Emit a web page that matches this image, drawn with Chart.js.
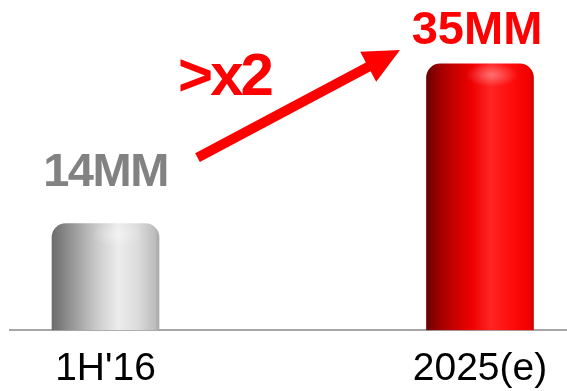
<!DOCTYPE html>
<html>
<head>
<meta charset="utf-8">
<script src="https://cdn.jsdelivr.net/npm/chart.js@4"></script>
<style>
  html, body { margin: 0; padding: 0; background: #fff; }
  #wrap { width: 567px; height: 391px; }
</style>
</head>
<body>
<div id="wrap"><canvas id="growth"></canvas></div>
<script>
// periods and subscriber counts (millions)
var periods = ["1H'16", "2025(e)"];
var subscribers = [14, 35];
var valueLabels = ['14MM', '35MM'];
var growthLabel = '>x2';

var labelColors = ['#828282', '#ff0000'];
var BAR_W = 107;

// horizontal stops for the cylinder look
var barShades = [
    [[0, '#6c6c6c'], [0.15, '#8e8e8e'], [0.42, '#cbcbcb'], [0.62, '#ececec'], [0.8, '#dcdcdc'], [0.96, '#bdbdbd'], [1, '#a8a8a8']],
    [[0, '#6a0000'], [0.15, '#aa0000'], [0.42, '#ee0000'], [0.6, '#ff2424'], [0.8, '#ff0c0c'], [0.96, '#f00000'], [1, '#d40000']]
];

function cylinderFill(context) {
    var chart = context.chart;
    var xScale = chart.scales.x;
    if (!chart.chartArea || !xScale) {
        return '#999';
    }
    var cx = xScale.getPixelForValue(context.dataIndex);
    if (!isFinite(cx)) {
        return '#999';
    }
    var half = BAR_W / 2;
    var g = chart.ctx.createLinearGradient(cx - half, 0, cx + half, 0);
    barShades[context.dataIndex].forEach(function (s) {
        g.addColorStop(s[0], s[1]);
    });
    return g;
}

// soft highlight on the rounded tops, value labels, growth arrow
var decorations = {
    id: 'decorations',
    afterDatasetsDraw: function (chart) {
        var ctx = chart.ctx;
        var bars = chart.getDatasetMeta(0).data;
        ctx.save();
        bars.forEach(function (bar) {
            ctx.save();
            ctx.translate(bar.x + 12, bar.y + 11);
            ctx.scale(2.2, 1);
            var hl = ctx.createRadialGradient(0, 0, 0, 0, 0, 12);
            hl.addColorStop(0, 'rgba(255,255,255,0.35)');
            hl.addColorStop(1, 'rgba(255,255,255,0)');
            ctx.fillStyle = hl;
            ctx.beginPath();
            ctx.arc(0, 0, 12, 0, Math.PI * 2);
            ctx.fill();
            ctx.restore();
        });

        var gaps = [38, 20];
        ctx.textAlign = 'center';
        ctx.textBaseline = 'alphabetic';
        ctx.font = 'bold 47px "Liberation Sans", Arial, sans-serif';
        bars.forEach(function (bar, i) {
            ctx.fillStyle = labelColors[i];
            ctx.letterSpacing = i === 0 ? '-1.5px' : '0px';
            ctx.fillText(valueLabels[i], bar.x - (i === 1 ? 3 : 0), bar.y - gaps[i]);
        });

        // arrow from the first label to the second
        var a = bars[0], b = bars[1];
        var x0 = a.x + 92, y0 = a.y - 66;
        var x1 = b.x - 80, y1 = b.y - 14;
        var ang = Math.atan2(y1 - y0, x1 - x0);
        var headLen = 36, headW = 17, shaft = 5;
        var bx = x1 - headLen * Math.cos(ang), by = y1 - headLen * Math.sin(ang);
        var nx = -Math.sin(ang), ny = Math.cos(ang);
        ctx.fillStyle = '#ff0000';
        ctx.beginPath();
        ctx.moveTo(x0 + nx * shaft, y0 + ny * shaft);
        ctx.lineTo(bx + nx * shaft, by + ny * shaft);
        ctx.lineTo(bx + nx * headW, by + ny * headW);
        ctx.lineTo(x1, y1);
        ctx.lineTo(bx - nx * headW, by - ny * headW);
        ctx.lineTo(bx - nx * shaft, by - ny * shaft);
        ctx.lineTo(x0 - nx * shaft, y0 - ny * shaft);
        ctx.closePath();
        ctx.fill();

        ctx.font = 'bold 60px "Liberation Sans", Arial, sans-serif';
        ctx.letterSpacing = '-3px';
        ctx.fillText(growthLabel, x0 + 27, y0 - 63);
        ctx.restore();
    }
};

var points = periods.map(function (p, i) {
    return { x: i, y: subscribers[i] };
});

new Chart(document.getElementById('growth'), {
    type: 'bar',
    data: {
        datasets: [{
            data: points,
            backgroundColor: cylinderFill,
            borderWidth: 0,
            borderSkipped: 'bottom',
            borderRadius: { topLeft: 14, topRight: 14, bottomLeft: 0, bottomRight: 0 },
            barThickness: BAR_W
        }]
    },
    options: {
        responsive: true,
        maintainAspectRatio: false,
        animation: false,
        layout: { padding: { left: 10, right: 0, top: 0, bottom: -18 } },
        plugins: {
            legend: { display: false },
            tooltip: { enabled: false }
        },
        scales: {
            x: {
                type: 'linear',
                offset: false,
                min: -0.255,
                max: 1.2323,
                grid: { display: false, drawTicks: false },
                border: { display: true, color: '#a6a6a6', width: 2 },
                afterBuildTicks: function (axis) {
                    axis.ticks = periods.map(function (p, i) { return { value: i }; });
                },
                ticks: {
                    padding: 16,
                    color: '#000',
                    maxRotation: 0,
                    font: { family: '"Liberation Sans", Arial, sans-serif', size: 39 },
                    callback: function (v) { return periods[v]; }
                }
            },
            y: {
                display: false,
                min: 0,
                max: 43.4
            }
        }
    },
    plugins: [decorations]
});
</script>
</body>
</html>
